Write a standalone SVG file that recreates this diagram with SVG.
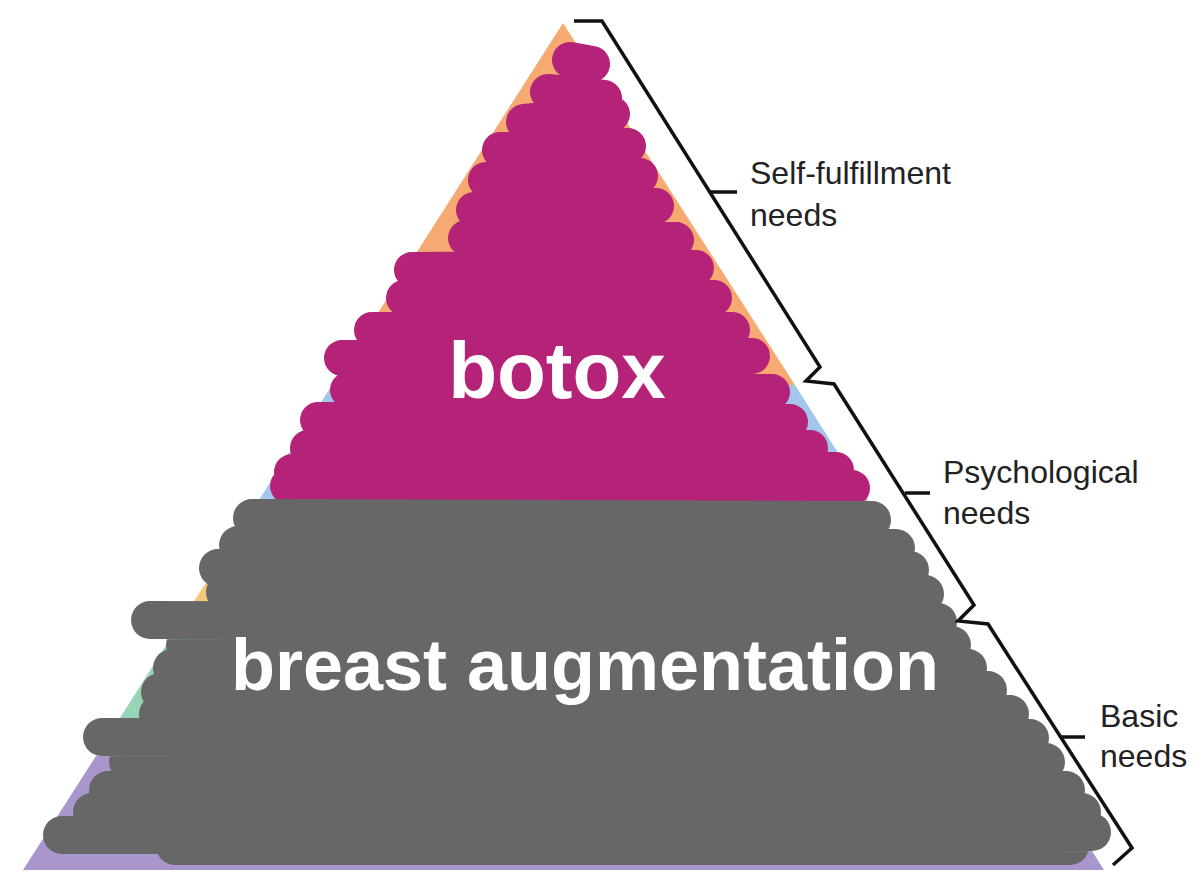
<svg xmlns="http://www.w3.org/2000/svg" width="1203" height="888" viewBox="0 0 1203 888">
<style>
.lbl{font-family:"Liberation Sans",Arial,sans-serif;font-size:32px;fill:#222}
.big{font-family:"Liberation Sans",Arial,sans-serif;font-weight:bold;fill:#fff;text-anchor:middle}
.mag{stroke:#B42377;stroke-width:36;stroke-linecap:round;fill:none}
.gry{stroke:#676767;stroke-width:38;stroke-linecap:round;fill:none}
.brk{stroke:#111;stroke-width:3.5;fill:none;stroke-linejoin:miter}
</style>
<rect width="1203" height="888" fill="#fff"/>
<g id="pyramid">
<polygon points="563,23 332,385 795,385" fill="#F7A972"/>
<polygon points="332,385 795,385 868,500 259,500" fill="#A3C6EC"/>
<polygon points="259,500 868,500 940,612 187,612" fill="#F6C97A"/>
<polygon points="187,612 940,612 1032,756 96,756" fill="#96D5B5"/>
<polygon points="96,756 1032,756 1104,870 23,870" fill="#A996CC"/>
</g>
<g id="botox-scribble">
<path class="mag" d="M570,60 L592,64 M548,92 L604,98 M524,122 L612,114 M500,150 L628,146 M486,180 L640,176 M474,210 L656,206 M466,238 L676,240 M412,270 L696,268 M404,298 L714,298 M372,330 L732,330 M342,358 L752,356 M348,390 L772,392 M318,420 L790,422 M308,448 L810,448 M292,472 L836,470 M288,486 L852,488"/>
<text class="big" x="557" y="398" font-size="80">botox</text>
</g>
<g id="augmentation-scribble">
<path class="gry" d="M252,518 L872,520 M238,545 L896,548 M218,568 L910,570 M225,592 L925,594 M150,620 L938,622 M185,645 L952,645 M172,668 L968,668 M160,692 L988,690 M158,714 L1010,714 M102,737 L1030,738 M128,762 L1046,762 M108,790 L1066,790 M92,812 L1082,812 M62,835 L1092,832 M175,846 L1070,846"/>
<text class="big" x="585" y="690" font-size="72">breast augmentation</text>
</g>
<g id="connectors">
<polyline class="brk" points="574,21 602,21 820,367 806,381 834,384 974,605 958,621 988,624 1132,848 1113,865"/>
<line class="brk" x1="709" y1="192" x2="737" y2="192"/>
<line class="brk" x1="905" y1="493" x2="930" y2="493"/>
<line class="brk" x1="1061" y1="737" x2="1085" y2="737"/>
</g>
<g id="label-self">
<text class="lbl" x="750" y="184">Self-fulfillment</text>
<text class="lbl" x="750" y="226">needs</text>
</g>
<g id="label-psych">
<text class="lbl" x="943" y="483">Psychological</text>
<text class="lbl" x="943" y="524">needs</text>
</g>
<g id="label-basic">
<text class="lbl" x="1100" y="727">Basic</text>
<text class="lbl" x="1100" y="767">needs</text>
</g>
</svg>
